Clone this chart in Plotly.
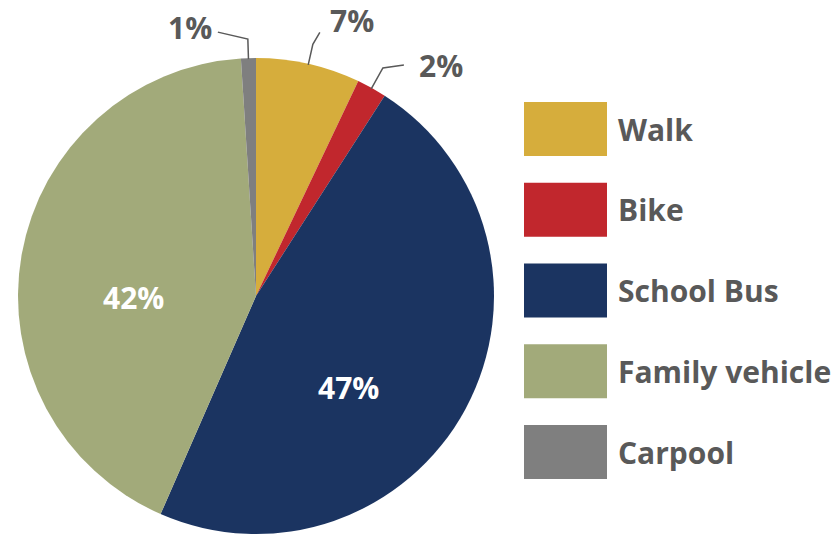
import math
import plotly.graph_objects as go

categories = ["Walk", "Bike", "School Bus", "Family vehicle", "Carpool"]
values = [7, 2, 47, 42, 1]
colors = ["#D6AD3C", "#C1272D", "#1B3461", "#A2AA7A", "#7F7F7F"]

W, H = 836, 539
FONT = "Open Sans"
GRAY = "#595959"
FS = 30

# pie geometry (pixels)
PX0, PX1, PY0, PY1 = 18, 494, 58, 534  # left, right, top, bottom
CX, CY = (PX0 + PX1) / 2, (PY0 + PY1) / 2
R = (PX1 - PX0) / 2

# label placement style (pixel offsets), keyed by category
inside_style = {"School Bus": (-12, 35), "Family vehicle": (-5, 22)}
outside_style = {
    # radial extension, elbow offset (dx, dy), label offset from elbow (dx, dy)
    "Walk": (20, (7, -12), (32, -12)),
    "Bike": (23, (21, -3), (37, 1)),
    "Carpool": (19, (-30, -7), (-28, -5)),
}

fig = go.Figure(go.Pie(
    labels=categories,
    values=values,
    marker=dict(colors=colors, line=dict(width=0)),
    sort=False,
    direction="clockwise",
    rotation=0,
    textinfo="none",
    showlegend=False,
    hoverinfo="label+percent",
    domain=dict(x=[PX0 / W, PX1 / W], y=[1 - PY1 / H, 1 - PY0 / H]),
))


def px(x):
    return x / W


def py(y):
    return 1 - y / H


total = sum(values)
shapes, annotations = [], []
cum = 0
for cat, v in zip(categories, values):
    mid = (cum + v / 2) / total * 2 * math.pi
    cum += v
    sx, sy = math.sin(mid), -math.cos(mid)
    label = f"<b>{v}%</b>"
    if cat in inside_style:
        ox, oy = inside_style[cat]
        x, y = CX + 0.5 * R * sx + ox, CY + 0.5 * R * sy + oy
        annotations.append(dict(xref="paper", yref="paper", x=px(x), y=py(y),
                                xanchor="center", yanchor="middle", showarrow=False,
                                text=label, font=dict(family=FONT, size=FS, color="white")))
    else:
        ext, (ex, ey), (lx, ly) = outside_style[cat]
        x0, y0 = CX + (R - 1) * sx, CY + (R - 1) * sy
        x1, y1 = CX + (R + ext) * sx, CY + (R + ext) * sy
        x2, y2 = x1 + ex, y1 + ey
        path = f"M {px(x0)},{py(y0)} L {px(x1)},{py(y1)} L {px(x2)},{py(y2)}"
        shapes.append(dict(type="path", xref="paper", yref="paper", path=path,
                           line=dict(color=GRAY, width=1.5)))
        annotations.append(dict(xref="paper", yref="paper", x=px(x2 + lx), y=py(y2 + ly),
                                xanchor="center", yanchor="middle", showarrow=False,
                                borderpad=0,
                                text=label, font=dict(family=FONT, size=FS, color=GRAY)))

# Custom legend: large swatches with labels
sw_x0, sw_x1 = 524, 607
top0, step, sh = 102, 80.75, 54
for i, (cat, col) in enumerate(zip(categories, colors)):
    y0 = top0 + i * step
    shapes.append(dict(type="rect", xref="paper", yref="paper",
                       x0=px(sw_x0), x1=px(sw_x1),
                       y0=py(y0 + sh), y1=py(y0),
                       fillcolor=col, line=dict(width=0)))
    annotations.append(dict(xref="paper", yref="paper", x=px(616), y=py(y0 + sh / 2),
                            xanchor="left", yanchor="middle", showarrow=False,
                            text=f"<b>{cat}</b>",
                            font=dict(family=FONT, size=FS, color=GRAY)))

fig.update_layout(
    width=W, height=H,
    margin=dict(l=0, r=0, t=0, b=0),
    paper_bgcolor="white", plot_bgcolor="white",
    shapes=shapes, annotations=annotations,
    font=dict(family=FONT),
)

fig.write_html("out.html", config={"displayModeBar": False},
               post_script="document.body.style.margin='0';")
